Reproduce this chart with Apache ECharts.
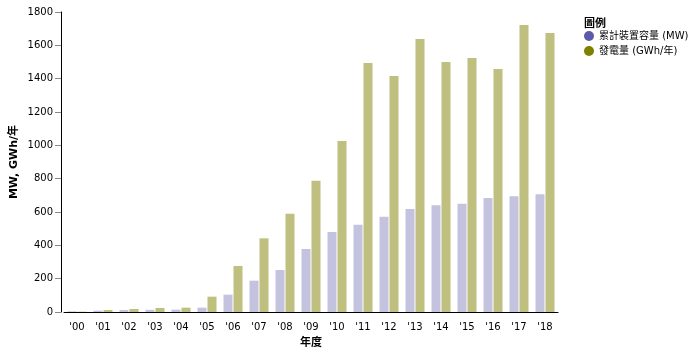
<!DOCTYPE html>
<html>
<head>
<meta charset="utf-8">
<script src="https://cdn.jsdelivr.net/npm/echarts@6/dist/echarts.min.js"></script>
<style>
  html, body { margin: 0; padding: 0; background: #fff; }
  #chart { width: 697px; height: 355px; }
</style>
</head>
<body>
<div id="chart"></div>
<script>
const years = ["'00", "'01", "'02", "'03", "'04", "'05", "'06", "'07", "'08", "'09",
    "'10", "'11", "'12", "'13", "'14", "'15", "'16", "'17", "'18"];
const capacity = [4, 8, 12, 13, 14, 26, 104, 188, 252, 378, 480, 524, 572, 618, 640, 650, 684, 694, 706];
const generation = [2, 12, 18, 24, 26, 92, 276, 442, 590, 788, 1026, 1494, 1416, 1638, 1500, 1524, 1458, 1722, 1674];
const seriesNames = ['累計裝置容量 (MW)', '發電量 (GWh/年)'];

const font = 'DejaVu Sans, "Noto Sans CJK TC", sans-serif';

const chart = echarts.init(document.getElementById('chart'));

const option = {
    animation: false,
    textStyle: {fontFamily: font},
    title: {
        text: '圖例',
        left: 584,
        top: 19,
        padding: 0,
        textStyle: {fontSize: 11, fontWeight: 'bold', color: '#000', fontFamily: font},
    },
    legend: {
        orient: 'vertical',
        left: 584,
        top: 31,
        padding: 0,
        itemGap: 5,
        itemWidth: 10,
        itemHeight: 10,
        icon: 'circle',
        textStyle: {fontSize: 10, color: '#000', fontFamily: font},
        data: [
            {name: seriesNames[0], itemStyle: {color: '#5b5ba9'}},
            {name: seriesNames[1], itemStyle: {color: '#7f7f00'}},
        ],
    },
    grid: {
        left: 64,
        right: 139,
        top: 12,
        bottom: 43,
        containLabel: false,
        outerBoundsMode: 'none',
    },
    xAxis: {
        type: 'category',
        data: years,
        name: '年度',
        nameLocation: 'middle',
        nameGap: 26,
        nameMoveOverlap: false,
        nameTextStyle: {fontSize: 11, fontWeight: 'bold', color: '#000', fontFamily: font},
        axisLine: {lineStyle: {color: '#000', width: 1}},
        axisTick: {alignWithLabel: true, length: 5, lineStyle: {color: '#888'}},
        axisLabel: {fontSize: 10, color: '#000', margin: 10, fontFamily: font},
    },
    yAxis: {
        type: 'value',
        min: 0,
        max: 1800,
        interval: 200,
        offset: 3,
        name: 'MW, GWh/年',
        nameLocation: 'middle',
        nameGap: 41,
        nameMoveOverlap: false,
        nameTextStyle: {fontSize: 11, fontWeight: 'bold', color: '#000', fontFamily: font},
        axisLine: {show: true, lineStyle: {color: '#000', width: 1}},
        axisTick: {show: true, length: 6, lineStyle: {color: '#888'}},
        axisLabel: {fontSize: 10, color: '#000', margin: 8, fontFamily: font, formatter: v => String(v)},
        splitLine: {show: false},
    },
    series: [
        {
            name: seriesNames[0],
            type: 'bar',
            data: capacity,
            barWidth: 9,
            barGap: '11%',
            itemStyle: {color: '#c3c3df'},
        },
        {
            name: seriesNames[1],
            type: 'bar',
            data: generation,
            barWidth: 9,
            itemStyle: {color: '#bfbf80'},
        },
    ],
};

chart.setOption(option);
</script>
</body>
</html>
